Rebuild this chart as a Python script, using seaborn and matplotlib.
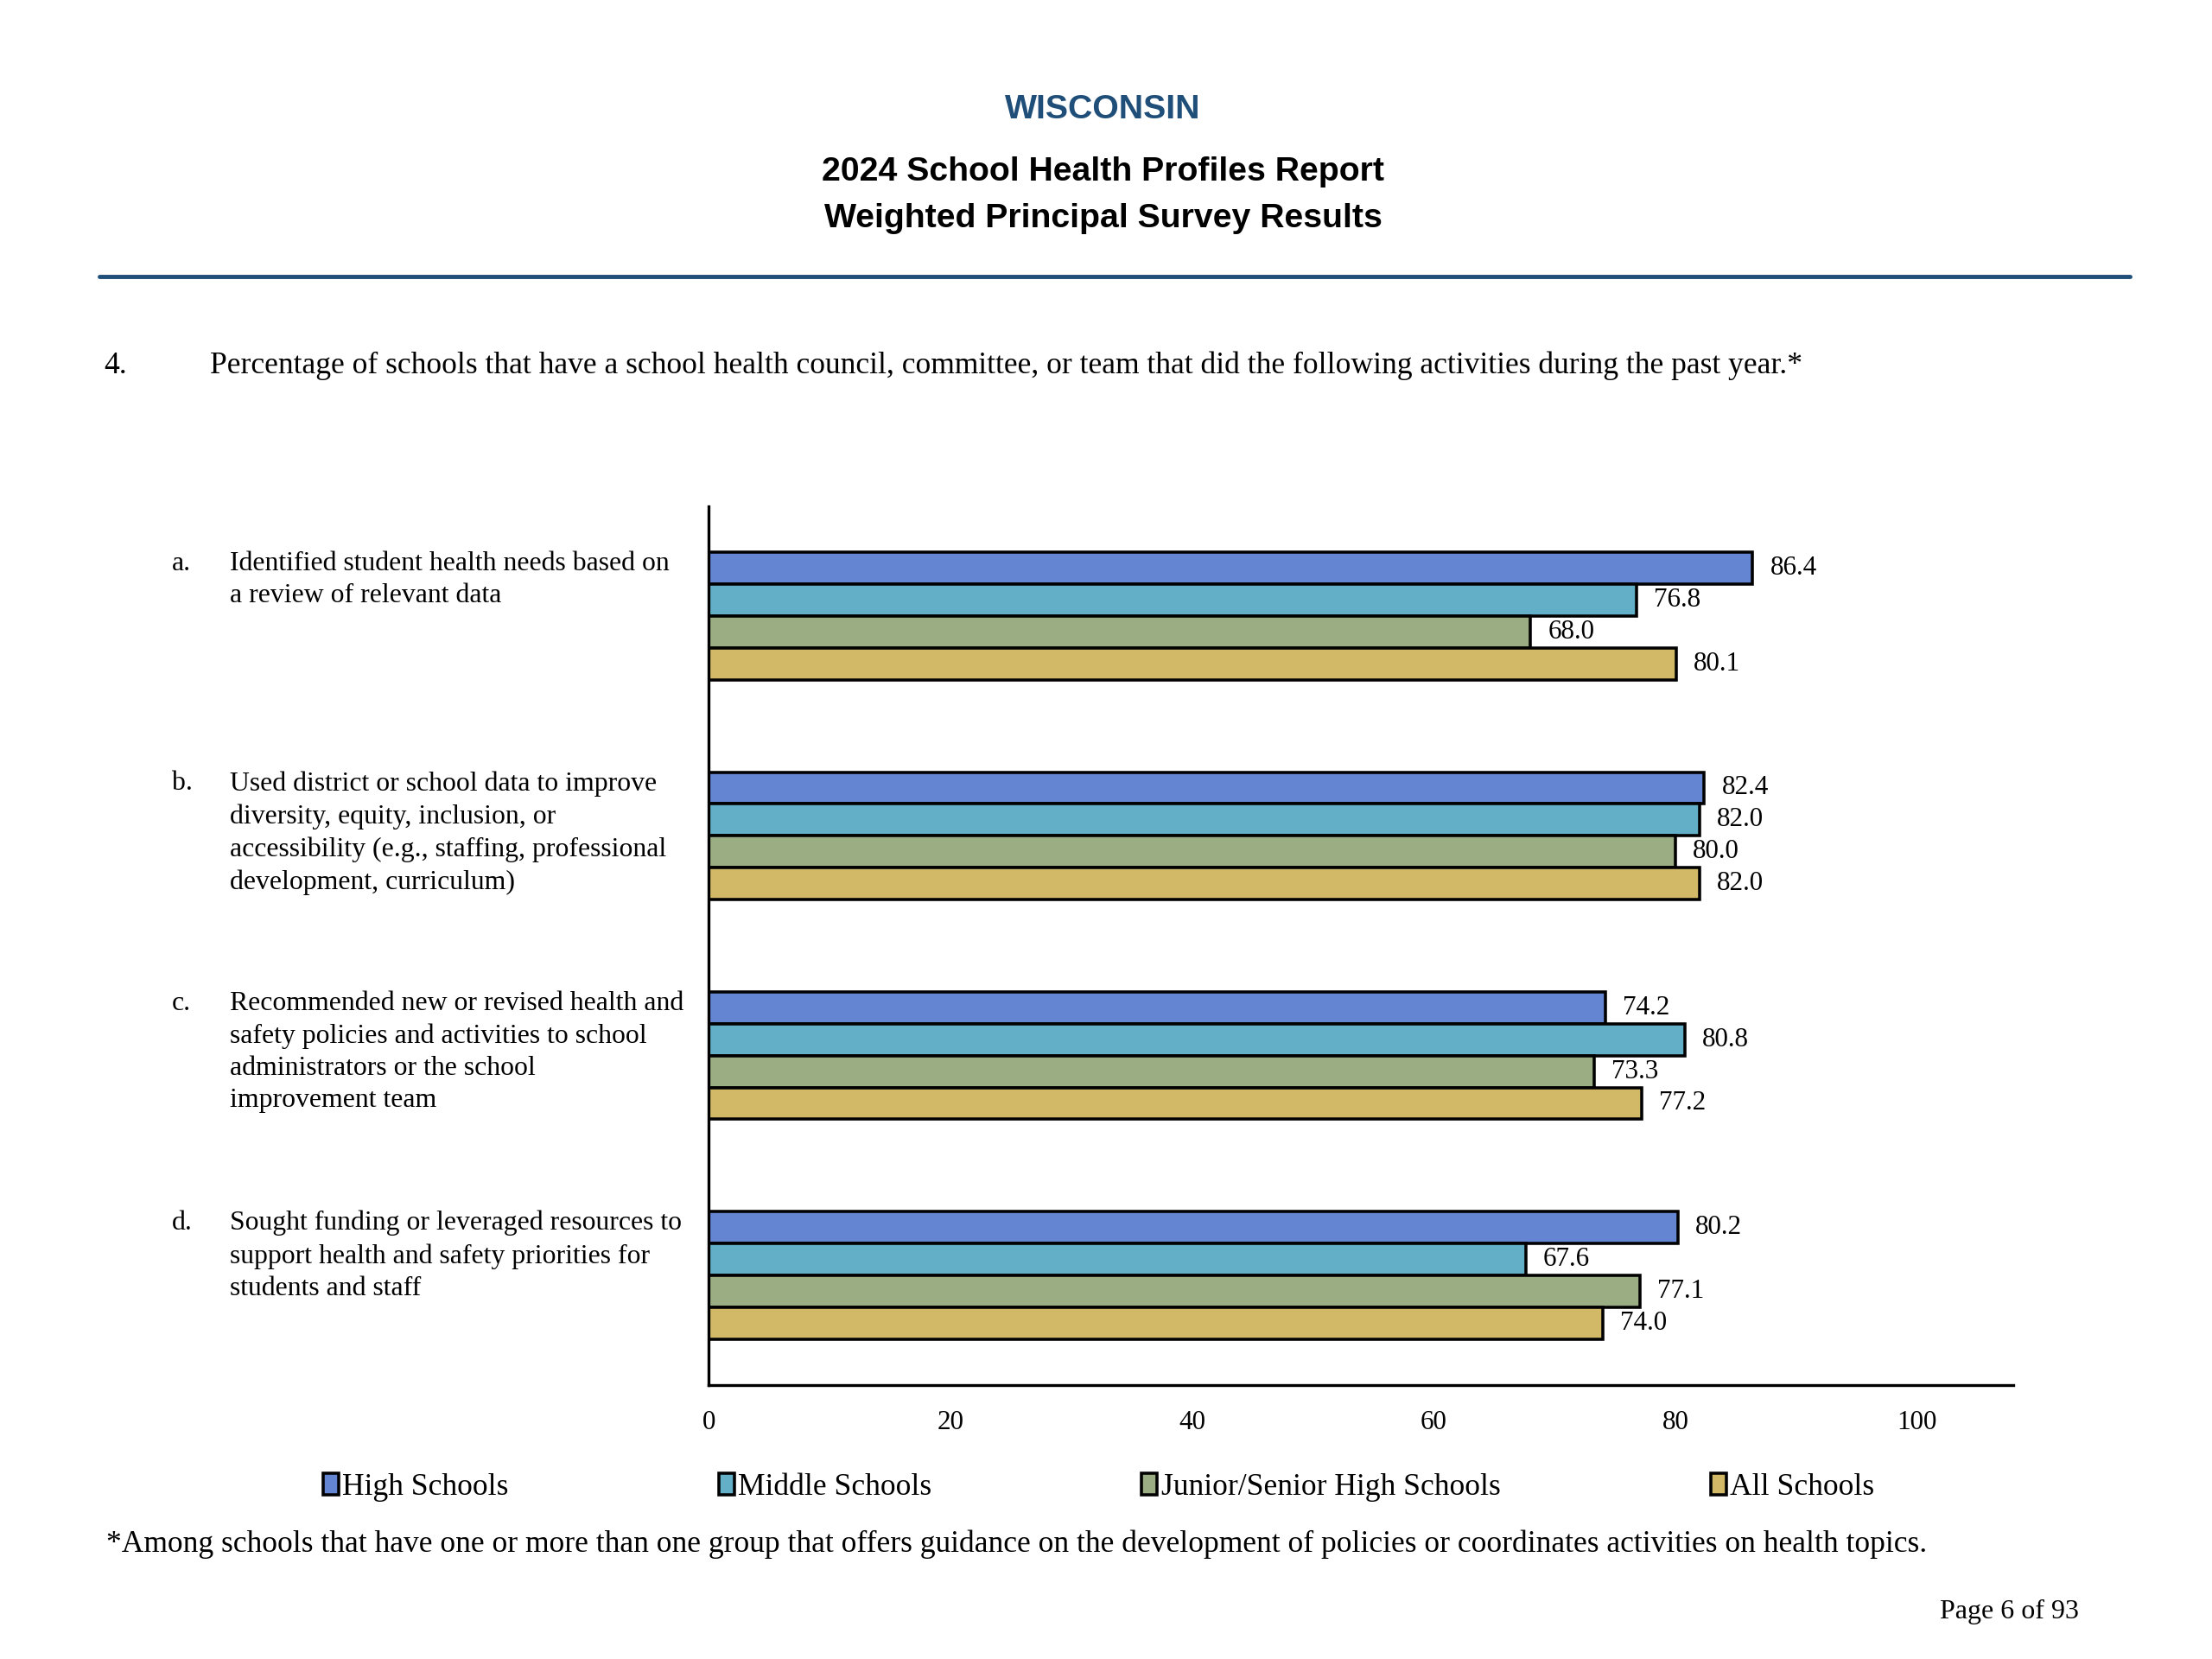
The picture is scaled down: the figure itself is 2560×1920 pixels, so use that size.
import pandas as pd
import numpy as np
import matplotlib.pyplot as plt
import matplotlib.transforms as mtransforms
from matplotlib.lines import Line2D
import seaborn as sns

sns.set_theme(style='white')
plt.rcParams['font.family'] = ['Liberation Serif', 'DejaVu Serif']
plt.rcParams['text.color'] = 'black'
plt.rcParams['xtick.color'] = 'black'
plt.rcParams['ytick.color'] = 'black'

letters = ['a.', 'b.', 'c.', 'd.']
activities = [
    'Identified student health needs based on\na review of relevant data',
    'Used district or school data to improve\ndiversity, equity, inclusion, or\naccessibility (e.g., staffing, professional\ndevelopment, curriculum)',
    'Recommended new or revised health and\nsafety policies and activities to school\nadministrators or the school\nimprovement team',
    'Sought funding or leveraged resources to\nsupport health and safety priorities for\nstudents and staff',
]
groups = ['High Schools', 'Middle Schools', 'Junior/Senior High Schools', 'All Schools']
high_schools = [86.4, 82.4, 74.2, 80.2]
middle_schools = [76.8, 82.0, 80.8, 67.6]
junior_senior = [68.0, 80.0, 73.3, 77.1]
all_schools = [80.1, 82.0, 77.2, 74.0]
colors = ['#6485D1', '#63AFC8', '#9BAE83', '#D1B968']

rows = []
for g, vals in zip(groups, [high_schools, middle_schools, junior_senior, all_schools]):
    for let, v in zip(letters, vals):
        rows.append({'item': let, 'group': g, 'value': v})
df = pd.DataFrame(rows)

fig = plt.figure(figsize=(16, 12), dpi=160)
ax = fig.add_axes([0.3205, 0.165, 0.5898, 0.5299])

sns.barplot(data=df, x='value', y='item', hue='group', hue_order=groups,
            order=letters, palette=colors, saturation=1, width=0.58,
            errorbar=None, edgecolor='black', linewidth=1.6, ax=ax)

for cont in ax.containers:
    ax.bar_label(cont, fmt='%.1f', padding=9, fontsize=14, color='black')

ax.set_xlim(0, 108)
ax.set_ylim(3.5, -0.5)
ax.set_xticks(np.arange(0, 101, 20))
ax.tick_params(axis='x', labelsize=14, length=4, width=1, direction='out', pad=9, color='black')
ax.tick_params(axis='y', left=False, labelleft=False)
ax.set_xlabel('')
ax.set_ylabel('')
for s in ['top', 'right']:
    ax.spines[s].set_visible(False)
for s in ['left', 'bottom']:
    ax.spines[s].set_color('black')
    ax.spines[s].set_linewidth(1.5)

# category labels on the left
trans = mtransforms.blended_transform_factory(fig.transFigure, ax.transData)
for i, (let, txt) in enumerate(zip(letters, activities)):
    ax.text(0.0776, i - 0.295, let, transform=trans, ha='left', va='top', fontsize=14.3, linespacing=1.38)
    ax.text(0.1038, i - 0.295, txt, transform=trans, ha='left', va='top', fontsize=14.3, linespacing=1.38)

# legend below the chart
handles, labels = ax.get_legend_handles_labels()
if ax.get_legend() is not None:
    ax.get_legend().remove()
fig.legend(handles, labels, loc='center left', bbox_to_anchor=(0.146, 0.1034), ncol=4,
           frameon=False, fontsize=16, handlelength=0.5, handleheight=0.7,
           handletextpad=0.12, columnspacing=6.85, borderpad=0, borderaxespad=0)

# page header
fig.text(0.4987, 0.934, 'WISCONSIN', ha='center', va='center', fontsize=17.7,
         fontweight='bold', color='#1F4E79', family='Liberation Sans')
fig.text(0.4987, 0.8966, '2024 School Health Profiles Report', ha='center', va='center',
         fontsize=17.7, fontweight='bold', family='Liberation Sans')
fig.text(0.4987, 0.8684, 'Weighted Principal Survey Results', ha='center', va='center',
         fontsize=17.7, fontweight='bold', family='Liberation Sans')
fig.add_artist(Line2D([0.0449, 0.9628], [0.8333, 0.8333], color='#1F4E79', linewidth=2.2,
                      transform=fig.transFigure))

fig.text(0.0468, 0.7795, '4.', ha='left', va='center', fontsize=16)
fig.text(0.0949, 0.7795, 'Percentage of schools that have a school health council, committee, or team '
         'that did the following activities during the past year.*', ha='left', va='center', fontsize=16)

fig.text(0.048, 0.0692, '*Among schools that have one or more than one group that offers guidance on the '
         'development of policies or coordinates activities on health topics.', ha='left', va='center', fontsize=16)
fig.text(0.9397, 0.0282, 'Page 6 of 93', ha='right', va='center', fontsize=14.4)

plt.savefig('out.png', dpi=160, facecolor='white')
print("saved out.png")
